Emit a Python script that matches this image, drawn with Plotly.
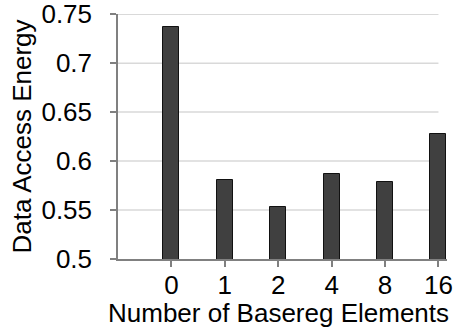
import plotly.graph_objects as go

categories = ["0", "1", "2", "4", "8", "16"]
energy = [0.737, 0.581, 0.553, 0.587, 0.579, 0.628]
y_ticks = [0.5, 0.55, 0.6, 0.65, 0.7, 0.75]
y_tick_labels = ["0.5", "0.55", "0.6", "0.65", "0.7", "0.75"]
x_title = "Number of Basereg Elements"
y_title = "Data Access Energy"

FONT = "Liberation Sans, Arial, Helvetica, sans-serif"

fig = go.Figure()
fig.add_trace(go.Bar(
    x=categories, y=energy, width=0.3,
    marker=dict(color="#404040", line=dict(color="#111111", width=1)),
))

shapes = []
for v in y_ticks[1:]:
    shapes.append(dict(type="line", xref="x", yref="y", x0=-1, x1=len(categories) - 1,
                       y0=v, y1=v, line=dict(color="#d9d9d9", width=1.5), layer="below"))

fig.update_layout(
    width=456, height=333,
    margin=dict(l=118, r=9, t=14, b=74),
    paper_bgcolor="white", plot_bgcolor="white",
    showlegend=False, bargap=0,
    font=dict(family=FONT, size=26, color="black"),
    shapes=shapes,
    annotations=[dict(text=x_title, xref="paper", yref="paper", x=0.488, y=-0.22,
                      xanchor="center", yanchor="middle", showarrow=False,
                      font=dict(size=26))],
    xaxis=dict(
        type="category", range=[-1, 5.16], automargin=False,
        showgrid=False, showline=True, linecolor="#808080", linewidth=1.5,
        ticks="outside", ticklen=6, tickcolor="#808080", tickwidth=1.5,
        tickfont=dict(size=26), ticklabelstandoff=-4, ticklabeloverflow="allow",
    ),
    yaxis=dict(
        range=[0.5, 0.7502], tickvals=y_ticks, ticktext=y_tick_labels, automargin=False,
        showgrid=False, showline=True, linecolor="#808080", linewidth=1.5,
        ticks="outside", ticklen=6, tickcolor="#808080", tickwidth=1.5,
        tickfont=dict(size=26), zeroline=False, ticklabelstandoff=13,
        ticklabeloverflow="allow",
        title=dict(text=y_title, font=dict(size=26), standoff=2),
    ),
)

fig.write_html("out.html")
